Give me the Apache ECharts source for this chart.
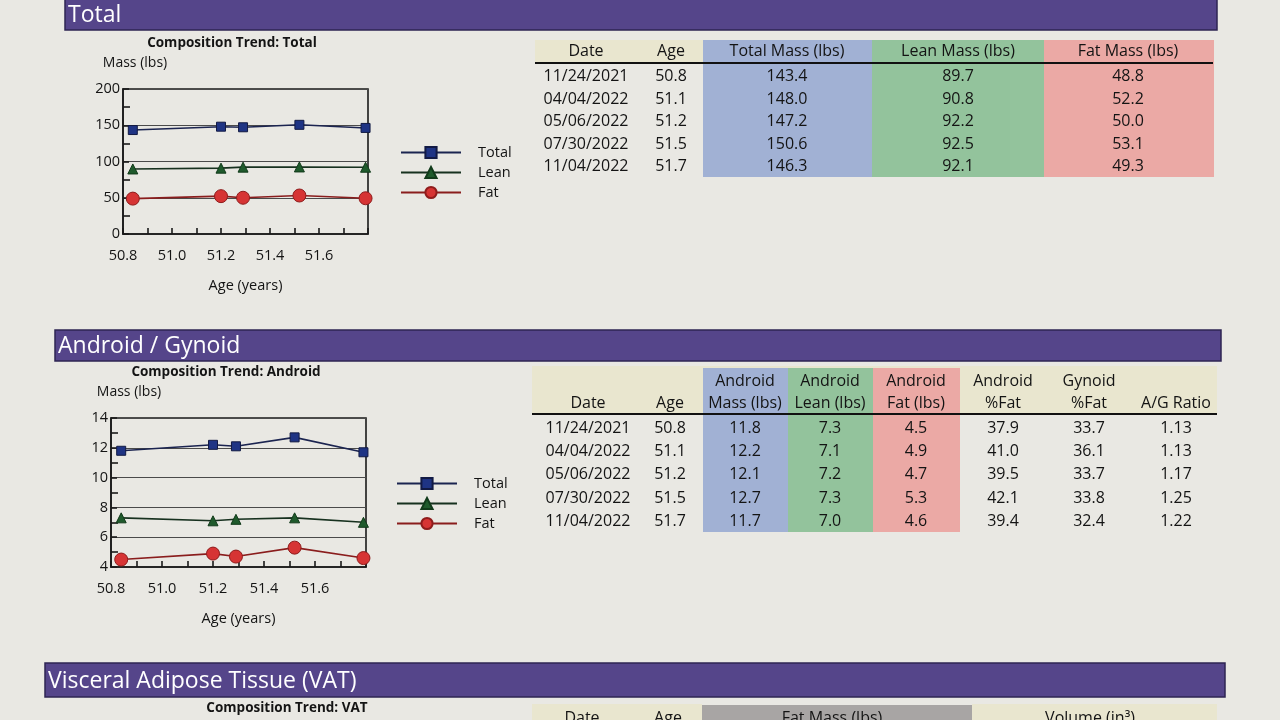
<!DOCTYPE html>
<html>
<head>
<meta charset="utf-8">
<script src="https://cdn.jsdelivr.net/npm/echarts@6/dist/echarts.min.js"></script>
<style>
html,body{margin:0;padding:0;background:#e9e8e3;}
#c{width:1280px;height:720px;}
</style>
</head>
<body>
<div id="c"></div>
<script>
// ---- data ----
const plotAges = [50.84, 51.20, 51.29, 51.52, 51.79];
const dates = ['11/24/2021', '04/04/2022', '05/06/2022', '07/30/2022', '11/04/2022'];
const ageLabels = ['50.8', '51.1', '51.2', '51.5', '51.7'];
const totalMass = [143.4, 148.0, 147.2, 150.6, 146.3];
const leanMass = [89.7, 90.8, 92.2, 92.5, 92.1];
const fatMass = [48.8, 52.2, 50.0, 53.1, 49.3];
const androidMass = [11.8, 12.2, 12.1, 12.7, 11.7];
const androidLean = [7.3, 7.1, 7.2, 7.3, 7.0];
const androidFat = [4.5, 4.9, 4.7, 5.3, 4.6];
const androidPctFat = [37.9, 41.0, 39.5, 42.1, 39.4];
const gynoidPctFat = [33.7, 36.1, 33.7, 33.8, 32.4];
const agRatio = [1.13, 1.13, 1.17, 1.25, 1.22];
const seriesNames = ['Total', 'Lean', 'Fat'];
const xTickLabels = ['50.8', '51.0', '51.2', '51.4', '51.6'];

const FONT = '"Open Sans", "Noto Sans", sans-serif';
const INK = '#141414';

function pairs(xs, ys) { return xs.map((x, i) => [x, ys[i]]); }

const styles = {
  Total: { symbol: 'rect', symbolSize: 9, line: '#1b2450', fill: '#1f3484', border: '#121a44' },
  Lean: { symbol: 'triangle', symbolSize: 10, line: '#17311f', fill: '#1f5a2c', border: '#113a1a' },
  Fat: { symbol: 'circle', symbolSize: 13, line: '#8a1d1d', fill: '#d63434', border: '#8f1c1c' }
};

function makeSeries(gridIdx, vals) {
  return seriesNames.map((n, k) => ({
    name: n, type: 'line', xAxisIndex: gridIdx, yAxisIndex: gridIdx,
    data: pairs(plotAges, vals[k]),
    symbol: styles[n].symbol, symbolSize: styles[n].symbolSize,
    lineStyle: { color: styles[n].line, width: 1.6 },
    itemStyle: { color: styles[n].fill, borderColor: styles[n].border, borderWidth: 1 },
    z: 3 + k, animation: false
  }));
}

function xAxisCfg(gridIdx) {
  return {
    type: 'value', gridIndex: gridIdx, min: 50.8, max: 51.8, interval: 0.2,
    name: 'Age (years)', nameLocation: 'middle', nameGap: 44,
    nameTextStyle: { fontFamily: FONT, fontSize: 14.5, color: INK, verticalAlign: 'top' },
    axisLine: { show: true, lineStyle: { color: '#1a1a1a', width: 1.6 } },
    axisTick: { show: true, inside: true, length: 6, lineStyle: { color: '#1a1a1a', width: 1.6 } },
    minorTick: { show: true, splitNumber: 2, length: 6, lineStyle: { color: '#1a1a1a', width: 1.6 } },
    splitLine: { show: false },
    axisLabel: {
      fontFamily: FONT, fontSize: 14.5, color: INK, margin: 14, showMaxLabel: false,
      formatter: v => xTickLabels.find(t => Math.abs(parseFloat(t) - v) < 1e-6) || ''
    }
  };
}

function yAxisCfg(gridIdx, min, max, interval, namePad) {
  return {
    type: 'value', gridIndex: gridIdx, min: min, max: max, interval: interval,
    name: 'Mass (lbs)', nameLocation: 'end', nameGap: 19,
    nameTextStyle: { fontFamily: FONT, fontSize: 14, color: INK, align: 'center', padding: [0, 0, 0, namePad] },
    axisLine: { show: true, lineStyle: { color: '#1a1a1a', width: 1.6 } },
    axisTick: { show: true, inside: true, length: 6, lineStyle: { color: '#1a1a1a', width: 1.6 } },
    minorTick: { show: true, splitNumber: 2, length: 7, lineStyle: { color: '#1a1a1a', width: 1.6 } },
    splitLine: { show: true, lineStyle: { color: '#4a4a4a', width: 1 } },
    axisLabel: { fontFamily: FONT, fontSize: 14.5, color: INK, margin: 3 }
  };
}

function legendCfg(left, top) {
  return {
    data: seriesNames, orient: 'vertical', left: left, top: top, padding: 0,
    itemWidth: 60, itemHeight: 14, itemGap: 5,
    textStyle: { fontFamily: FONT, fontSize: 14.5, color: INK, padding: [0, 0, 0, 12], lineHeight: 14 },
    selectedMode: false
  };
}

// ---- graphics (section bars, titles, tables) ----
const g = [];
function bar(x, y, w, h, label, fs) {
  g.push({ type: 'rect', shape: { x: x, y: y, width: w, height: h },
    style: { fill: '#55458a', stroke: '#2e2453', lineWidth: 1.5 }, z: 1 });
  g.push({ type: 'text', x: x + 3, y: y + h / 2 + 1,
    style: { text: label, fill: '#ffffff', font: fs + 'px ' + FONT, verticalAlign: 'middle' }, z: 2 });
}
function txt(x, y, s, opt) {
  opt = opt || {};
  g.push({ type: 'text', x: x, y: y, z: 5,
    style: { text: s, fill: opt.fill || INK,
      font: (opt.bold ? 'bold ' : '') + (opt.size || 16) + 'px ' + FONT,
      align: opt.align || 'center', verticalAlign: 'middle' } });
}
function rect(x, y, w, h, fill) {
  g.push({ type: 'rect', shape: { x: x, y: y, width: w, height: h }, style: { fill: fill }, z: 1 });
}
function hline(x1, x2, y, w) {
  g.push({ type: 'line', shape: { x1: x1, y1: y, x2: x2, y2: y }, style: { stroke: '#111', lineWidth: w }, z: 4 });
}

const BLUE = '#a1b1d4', GREEN = '#93c39c', PINK = '#eba9a5', CREAM = '#e9e6cf';

bar(65, -2, 1152, 32, 'Total', 23);
bar(55, 330, 1166, 31, 'Android / Gynoid', 23);
bar(45, 663, 1180, 34, 'Visceral Adipose Tissue (VAT)', 23);

txt(232, 43, 'Composition Trend: Total', { bold: true, size: 13.5 });
txt(226, 372, 'Composition Trend: Android', { bold: true, size: 13.5 });
txt(287, 708, 'Composition Trend: VAT', { bold: true, size: 13.5 });

// Total table
rect(535, 40, 168, 23, CREAM);
rect(703, 40, 169, 137, BLUE);
rect(872, 40, 172, 137, GREEN);
rect(1044, 40, 170, 137, PINK);
hline(535, 1213, 63, 2);
const totCols = [
  { x: 586, head: 'Date', vals: dates },
  { x: 671, head: 'Age', vals: ageLabels },
  { x: 787, head: 'Total Mass (lbs)', vals: totalMass.map(v => v.toFixed(1)) },
  { x: 958, head: 'Lean Mass (lbs)', vals: leanMass.map(v => v.toFixed(1)) },
  { x: 1128, head: 'Fat Mass (lbs)', vals: fatMass.map(v => v.toFixed(1)) }
];
totCols.forEach(c => {
  txt(c.x, 51, c.head);
  c.vals.forEach((v, i) => txt(c.x, 76.5 + i * 22.5, v));
});

// Android / Gynoid table
rect(532, 366, 685, 47, CREAM);
rect(703, 368, 85, 164, BLUE);
rect(788, 368, 85, 164, GREEN);
rect(873, 368, 87, 164, PINK);
hline(532, 1217, 414, 2);
const agCols = [
  { x: 588, head: ['', 'Date'], vals: dates },
  { x: 670, head: ['', 'Age'], vals: ageLabels },
  { x: 745, head: ['Android', 'Mass (lbs)'], vals: androidMass.map(v => v.toFixed(1)) },
  { x: 830, head: ['Android', 'Lean (lbs)'], vals: androidLean.map(v => v.toFixed(1)) },
  { x: 916, head: ['Android', 'Fat (lbs)'], vals: androidFat.map(v => v.toFixed(1)) },
  { x: 1003, head: ['Android', '%Fat'], vals: androidPctFat.map(v => v.toFixed(1)) },
  { x: 1089, head: ['Gynoid', '%Fat'], vals: gynoidPctFat.map(v => v.toFixed(1)) },
  { x: 1176, head: ['', 'A/G Ratio'], vals: agRatio.map(v => v.toFixed(2)) }
];
agCols.forEach(c => {
  if (c.head[0]) txt(c.x, 381, c.head[0]);
  txt(c.x, 403, c.head[1]);
  c.vals.forEach((v, i) => txt(c.x, 428.5 + i * 23.2, v));
});

// VAT table header (cut off at bottom)
rect(532, 704, 170, 16, CREAM);
rect(702, 705, 270, 15, '#a8a5a4');
rect(972, 704, 245, 16, CREAM);
txt(582, 718, 'Date');
txt(668, 718, 'Age');
txt(832, 718, 'Fat Mass (lbs)');
txt(1090, 718, 'Volume (in³)');

const option = {
  backgroundColor: '#e9e8e3',
  animation: false,
  textStyle: { fontFamily: FONT },
  graphic: g,
  legend: [legendCfg(400, 145), legendCfg(396, 476)],
  grid: [
    { left: 123, top: 89, width: 245, height: 145, show: true, borderColor: '#1a1a1a', borderWidth: 1.6, backgroundColor: 'transparent' },
    { left: 111, top: 418, width: 255, height: 149, show: true, borderColor: '#1a1a1a', borderWidth: 1.6, backgroundColor: 'transparent' }
  ],
  xAxis: [xAxisCfg(0), xAxisCfg(1)],
  yAxis: [yAxisCfg(0, 0, 200, 50, 24), yAxisCfg(1, 4, 14, 2, 36)],
  series: [].concat(
    makeSeries(0, [totalMass, leanMass, fatMass]),
    makeSeries(1, [androidMass, androidLean, androidFat])
  )
};

const chart = echarts.init(document.getElementById('c'), null, { renderer: 'canvas' });
chart.setOption(option);
</script>
</body>
</html>
